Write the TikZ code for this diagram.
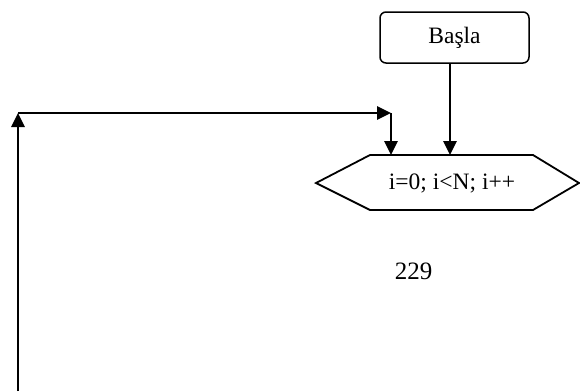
\documentclass[tikz,border=0pt]{standalone}
\usepackage{fontspec}
\setmainfont{Liberation Serif}
\usetikzlibrary{arrows.meta}
\begin{document}
\begin{tikzpicture}[x=1pt,y=-1pt,
  conn/.style={line width=2.6pt,-{Triangle[length=14pt,width=13pt]}},
  startbox/.style={draw,line width=1.5pt,rounded corners=6pt,minimum width=149pt,minimum height=51pt,inner sep=0pt},
  lbl/.style={font=\fontsize{23.5}{28}\selectfont,inner sep=0pt}]
\useasboundingbox (0,0) rectangle (580,391);
\node[startbox,lbl] (start) at (454.5,37.5) {Başla};
% hexagon
\coordinate (hl) at (316,183);
\coordinate (htl) at (370,155);
\coordinate (htr) at (533,155);
\coordinate (hr) at (579,183);
\coordinate (hbr) at (533,210);
\coordinate (hbl) at (370,210);
\draw[line width=1.8pt,line join=miter] (hl) -- (htl) -- (htr) -- (hr) -- (hbr) -- (hbl) -- cycle;
\node[lbl] (loop) at (452,183) {i=0; i<N; i++};
\coordinate (inA) at (450,155);
\coordinate (inB) at (391,155);
\coordinate (bot) at (18,391);
\coordinate (tl) at (18,113);
\coordinate (tr) at (391,113);
\node[lbl,font=\fontsize{25}{30}\selectfont] (page) at (413.5,271.5) {229};
\draw[conn] (start.south -| inA) -- (inA);
\draw[conn] (bot) -- (tl);
\draw[conn] (tl) -- (tr);
\draw[conn] (tr) -- (inB);
\end{tikzpicture}
\end{document}
